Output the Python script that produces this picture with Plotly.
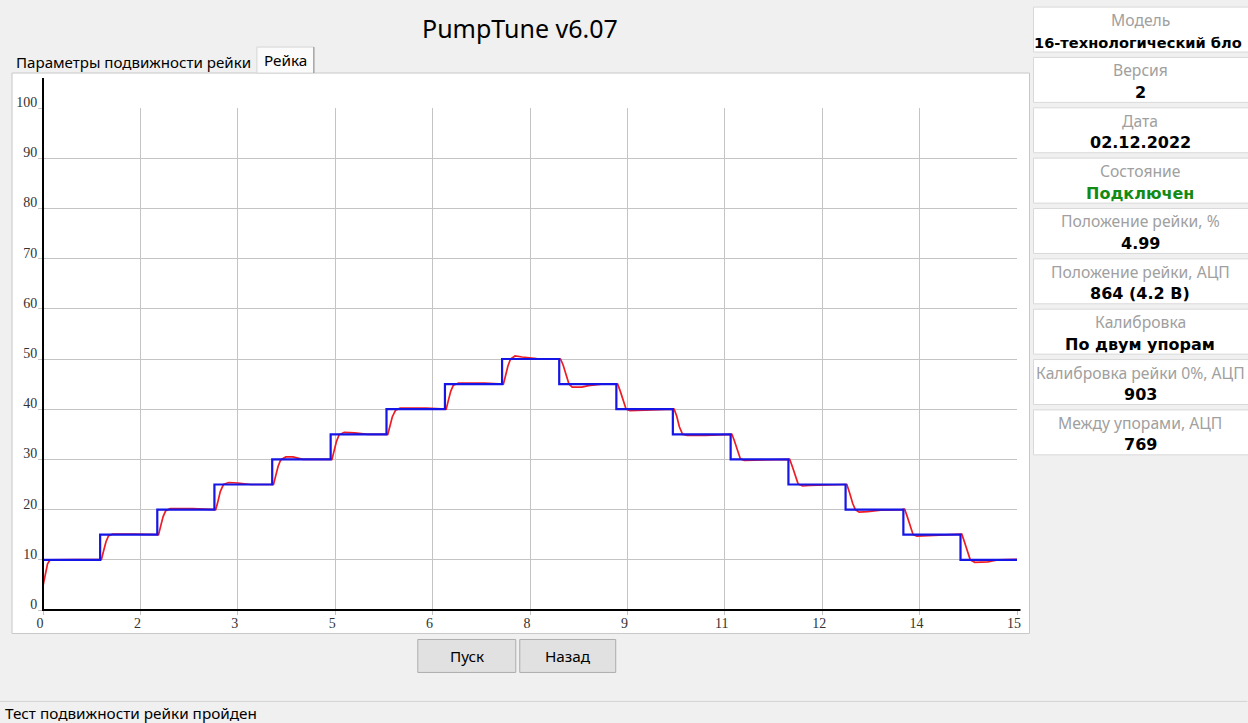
import plotly.graph_objects as go

# ---------------- data ----------------
step_times = [0.0, 0.88, 1.76, 2.64, 3.53, 4.43, 5.29, 6.19, 7.07, 7.95,
              8.83, 9.70, 10.59, 11.48, 12.36, 13.25, 14.13, 15.0]
setpoints = [10, 15, 20, 25, 30, 35, 40, 45, 50, 45, 40, 35, 30, 25, 20, 15, 10, 10]

red_x = [0.00, 0.03, 0.07, 0.11, 0.60, 0.85,
         0.90, 0.93, 0.97, 1.01, 1.07, 1.40, 1.70,
         1.78, 1.81, 1.85, 1.89, 1.96, 2.30, 2.60,
         2.66, 2.69, 2.73, 2.78, 2.86, 3.00, 3.20,
         3.55, 3.58, 3.62, 3.66, 3.74, 3.85, 4.00,
         4.45, 4.48, 4.52, 4.56, 4.64, 4.80, 5.00,
         5.31, 5.34, 5.38, 5.43, 5.50, 5.90, 6.15,
         6.21, 6.24, 6.28, 6.32, 6.40, 6.80, 7.03,
         7.09, 7.12, 7.16, 7.20, 7.27, 7.38, 7.60, 7.93,
         7.97, 8.01, 8.06, 8.10, 8.15, 8.30, 8.40, 8.60, 8.81,
         8.85, 8.89, 8.94, 8.98, 9.04, 9.25, 9.50, 9.68,
         9.72, 9.76, 9.80, 9.85, 9.92, 10.20, 10.57,
         10.61, 10.65, 10.70, 10.74, 10.80, 11.10, 11.46,
         11.50, 11.54, 11.59, 11.63, 11.70, 11.80, 12.34,
         12.38, 12.42, 12.47, 12.51, 12.57, 12.70, 12.90, 13.23,
         13.27, 13.31, 13.36, 13.40, 13.46, 13.70, 14.11,
         14.15, 14.19, 14.24, 14.28, 14.35, 14.55, 14.70, 15.00]
red_y = [4.8, 7.0, 9.2, 10.0, 10.0, 10.1,
         10.1, 11.6, 13.6, 14.8, 15.1, 15.1, 15.0,
         15.0, 16.6, 18.6, 19.8, 20.2, 20.2, 20.0,
         20.0, 21.4, 23.6, 25.0, 25.4, 25.3, 25.0,
         25.0, 26.6, 28.6, 29.9, 30.5, 30.5, 30.0,
         30.0, 31.6, 33.6, 34.9, 35.4, 35.3, 35.0,
         35.0, 36.4, 38.5, 39.8, 40.2, 40.2, 40.0,
         40.0, 41.6, 43.6, 44.8, 45.2, 45.2, 45.0,
         45.0, 46.5, 48.6, 50.0, 50.6, 50.4, 50.1, 50.0,
         50.0, 48.8, 46.6, 45.0, 44.4, 44.4, 44.7, 45.0, 45.0,
         45.0, 43.6, 41.4, 40.0, 39.7, 39.8, 40.0, 40.0,
         40.0, 38.6, 36.5, 35.0, 34.8, 34.8, 35.0,
         35.0, 33.6, 31.4, 30.1, 29.8, 29.9, 30.0,
         30.0, 28.6, 26.4, 25.1, 24.7, 24.8, 25.0,
         25.0, 23.4, 21.2, 20.0, 19.5, 19.6, 19.9, 20.0,
         20.1, 18.6, 16.4, 15.0, 14.7, 14.8, 15.1,
         15.1, 13.6, 11.4, 10.0, 9.5, 9.6, 10.0, 10.1]

x_tickvals = [0, 1.5, 3, 4.5, 6, 7.5, 9, 10.5, 12, 13.5, 15]
x_ticktext = ["0", "2", "3", "5", "6", "8", "9", "11", "12", "14", "15"]
y_tickvals = [0, 10, 20, 30, 40, 50, 60, 70, 80, 90, 100]

title_text = "PumpTune v6.07"
tab_labels = ["Параметры подвижности рейки", "Рейка"]
button_labels = ["Пуск", "Назад"]
status_text = "Тест подвижности рейки пройден"
info_labels = ["Модель", "Версия", "Дата", "Состояние", "Положение рейки, %",
               "Положение рейки, АЦП", "Калибровка", "Калибровка рейки 0%, АЦП",
               "Между упорами, АЦП"]
# first value is shown cut off by the window edge in the original
info_values = ["16-технологический бло", "2", "02.12.2022", "Подключен", "4.99",
               "864 (4.2 В)", "По двум упорам", "903", "769"]
info_value_colors = ["#000000", "#000000", "#000000", "#138a13", "#000000",
                     "#000000", "#000000", "#000000", "#000000"]

# ---------------- geometry helpers (pixels -> paper) ----------------
W, H = 1248, 723
PL, PR, PT, PB = 43, 1017.5, 108, 610.5


def px(x):
    return (x - PL) / (PR - PL)


def py(y):
    return (PB - y) / (PB - PT)


UI_FONT = "Noto Sans"
UI_SIZE = 15.3
BOLD_FONT = "DejaVu Sans"

fig = go.Figure()
fig.add_trace(go.Scatter(x=red_x, y=red_y, mode="lines",
                         line=dict(color="#ee1c24", width=1.7), hoverinfo="skip"))
fig.add_trace(go.Scatter(x=step_times, y=setpoints, mode="lines", line_shape="hv",
                         line=dict(color="#1515e6", width=2.2), hoverinfo="skip"))

shapes = []
annotations = []

# chart panel
shapes.append(dict(type="rect", xref="paper", yref="paper", layer="below",
                   x0=px(12), x1=px(1030), y0=py(634), y1=py(73),
                   fillcolor="#ffffff", line=dict(color="#c8c8c8", width=1)))
# selected tab
shapes.append(dict(type="rect", xref="paper", yref="paper", layer="below",
                   x0=px(257), x1=px(314), y0=py(73), y1=py(47),
                   fillcolor="#fbfbfb", line=dict(color="#d6d6d6", width=1)))
shapes.append(dict(type="line", xref="paper", yref="paper", layer="below",
                   x0=px(314), x1=px(314), y0=py(73), y1=py(47),
                   line=dict(color="#8c8c8c", width=1)))
# axis lines
shapes.append(dict(type="line", xref="paper", yref="paper", layer="above",
                   x0=px(42), x1=px(1021), y0=0, y1=0,
                   line=dict(color="#000000", width=2)))
shapes.append(dict(type="line", xref="paper", yref="paper", layer="above",
                   x0=0, x1=0, y0=py(611), y1=py(78),
                   line=dict(color="#000000", width=2)))
# buttons
for i, (x0, x1) in enumerate([(418, 516), (520, 616)]):
    shapes.append(dict(type="rect", xref="paper", yref="paper", layer="below",
                       x0=px(x0), x1=px(x1), y0=py(673), y1=py(640),
                       fillcolor="#e1e1e1", line=dict(color="#adadad", width=1)))
    annotations.append(dict(xref="paper", yref="paper", x=px((x0 + x1) / 2), y=py(657),
                            text=button_labels[i], showarrow=False,
                            xanchor="center", yanchor="middle",
                            font=dict(family=UI_FONT, size=UI_SIZE, color="#000000")))
# status bar separator
shapes.append(dict(type="line", xref="paper", yref="paper", layer="below",
                   x0=px(0), x1=px(1248), y0=py(702), y1=py(702),
                   line=dict(color="#d4d4d4", width=1)))

# info boxes
for i in range(len(info_labels)):
    top = 7 + 50.4 * i
    shapes.append(dict(type="rect", xref="paper", yref="paper", layer="below",
                       x0=px(1034), x1=px(1252), y0=py(top + 45), y1=py(top),
                       fillcolor="#ffffff", line=dict(color="#d9d9d9", width=1)))
    annotations.append(dict(xref="paper", yref="paper", x=px(1141), y=py(20 + 50.4 * i),
                            text=info_labels[i], showarrow=False,
                            xanchor="center", yanchor="middle",
                            font=dict(family=UI_FONT, size=15.7, color="#a0a0a0")))
    annotations.append(dict(xref="paper", yref="paper",
                            x=px(1033) if i == 0 else px(1141), y=py(42 + 50.4 * i),
                            text="<b>" + info_values[i] + "</b>", showarrow=False,
                            xanchor="left" if i == 0 else "center", yanchor="middle",
                            font=dict(family=BOLD_FONT, size=14.6 if i == 0 else 16,
                                      color=info_value_colors[i])))

# title, tabs, status text
annotations.append(dict(xref="paper", yref="paper", x=px(520), y=py(28), text=title_text,
                        showarrow=False, xanchor="center", yanchor="middle",
                        font=dict(family=UI_FONT, size=25, color="#000000")))
annotations.append(dict(xref="paper", yref="paper", x=px(14), y=py(62), text=tab_labels[0],
                        showarrow=False, xanchor="left", yanchor="middle",
                        font=dict(family=UI_FONT, size=15.1, color="#000000")))
annotations.append(dict(xref="paper", yref="paper", x=px(286), y=py(60), text=tab_labels[1],
                        showarrow=False, xanchor="center", yanchor="middle",
                        font=dict(family=UI_FONT, size=UI_SIZE, color="#000000")))
annotations.append(dict(xref="paper", yref="paper", x=px(3), y=py(714), text=status_text,
                        showarrow=False, xanchor="left", yanchor="middle",
                        font=dict(family=UI_FONT, size=UI_SIZE, color="#000000")))

tick_font = dict(family="Liberation Serif", size=14, color="#333333")
fig.update_layout(
    width=W, height=H,
    margin=dict(l=PL, r=W - PR, t=PT, b=H - PB, pad=0),
    paper_bgcolor="#f0f0f0", plot_bgcolor="#ffffff",
    showlegend=False,
    shapes=shapes, annotations=annotations,
    xaxis=dict(range=[0, 15], tickvals=x_tickvals, ticktext=x_ticktext,
               showgrid=True, gridcolor="#c4c4c4", gridwidth=1, zeroline=False,
               showline=False, ticks="outside", ticklen=4, tickcolor="#c4c4c4",
               tickfont=tick_font, ticklabelshift=-3, ticklabelstandoff=-4,
               fixedrange=True),
    yaxis=dict(range=[0, 100], tickvals=y_tickvals,
               showgrid=True, gridcolor="#c4c4c4", gridwidth=1, zeroline=False,
               showline=False, ticks="outside", ticklen=4, tickcolor="#c4c4c4",
               tickfont=tick_font, ticklabelshift=-6, ticklabelstandoff=-2,
               fixedrange=True),
)

fig.write_html("out.html", config={"displayModeBar": False},
               post_script="document.body.style.margin='0';document.body.style.overflow='hidden';")
